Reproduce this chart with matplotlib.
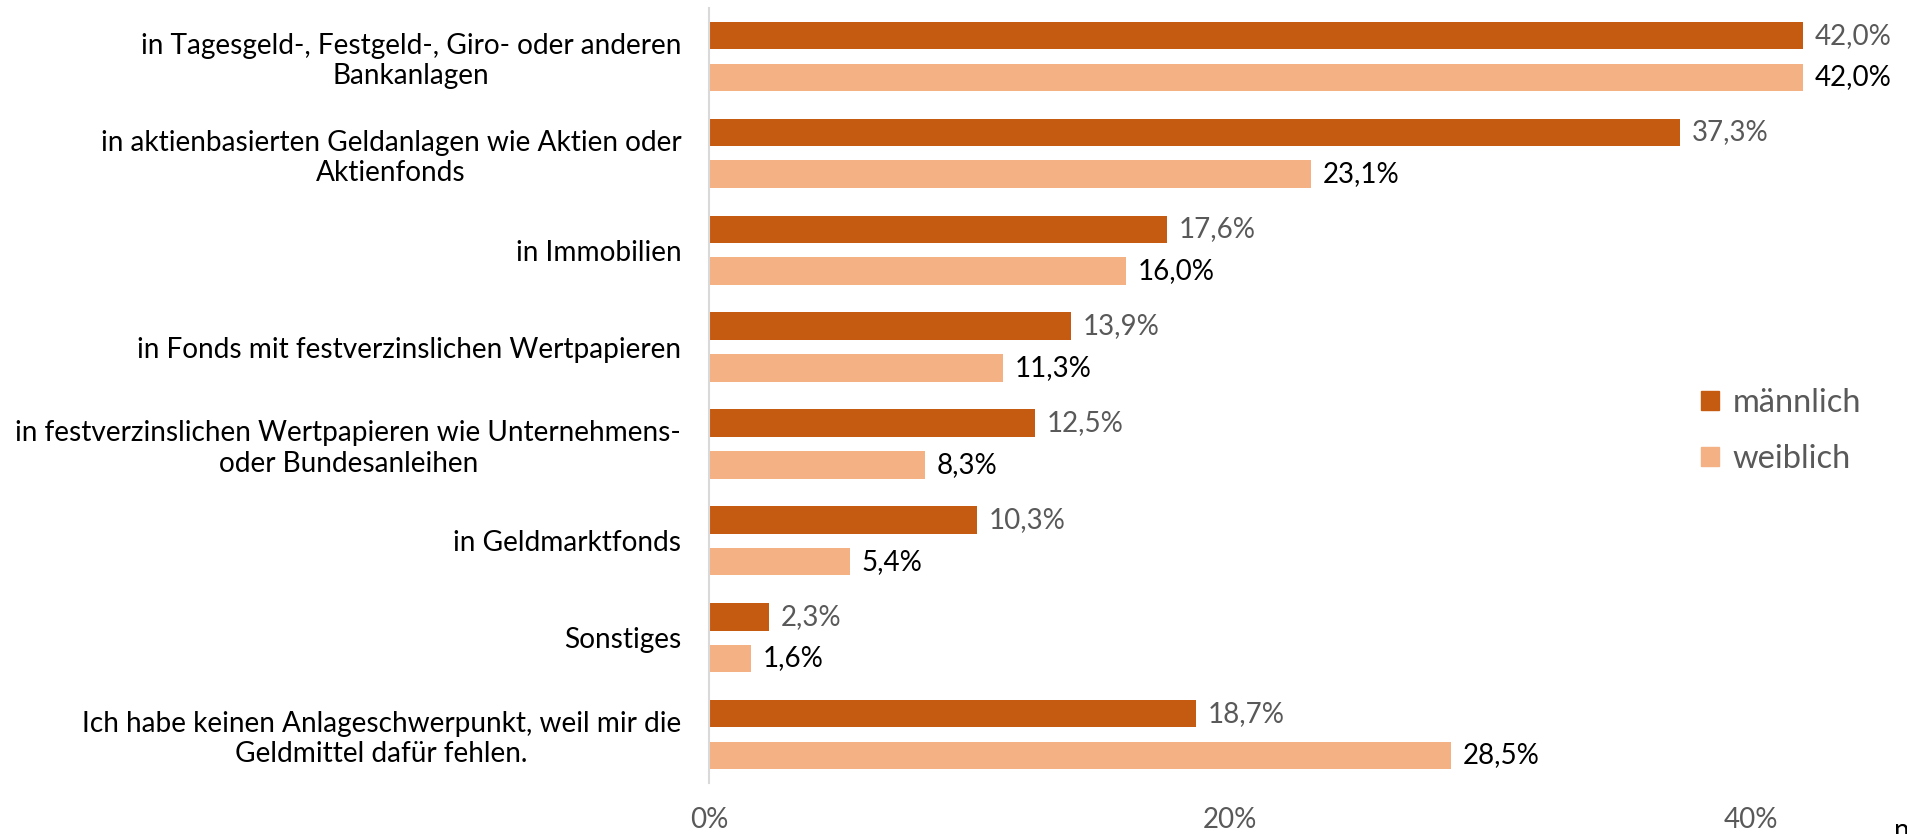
import matplotlib
matplotlib.use('Agg')
import matplotlib.pyplot as plt
import numpy as np
from matplotlib.patches import Patch

plt.rcParams['font.family'] = ['Lato', 'DejaVu Sans']

categories = [
    'in Tagesgeld-, Festgeld-, Giro- oder anderen\nBankanlagen',
    'in aktienbasierten Geldanlagen wie Aktien oder\nAktienfonds',
    'in Immobilien',
    'in Fonds mit festverzinslichen Wertpapieren',
    'in festverzinslichen Wertpapieren wie Unternehmens-\noder Bundesanleihen',
    'in Geldmarktfonds',
    'Sonstiges',
    'Ich habe keinen Anlageschwerpunkt, weil mir die\nGeldmittel dafür fehlen.',
]
maennlich = [42.0, 37.3, 17.6, 13.9, 12.5, 10.3, 2.3, 18.7]
weiblich = [42.0, 23.1, 16.0, 11.3, 8.3, 5.4, 1.6, 28.5]
xticks = [0, 20, 40]

c_m = '#C55A11'
c_w = '#F4B183'


def fmt(v):
    return f'{v:.1f}'.replace('.', ',') + '%'


W, H = 1907, 834
fig = plt.figure(figsize=(W / 100, H / 100), dpi=100)
ax = fig.add_axes([709 / W, 51 / H, 1 - 709 / W, 775 / H])

y = np.arange(len(categories))
bh = 0.284
ax.barh(y - 0.215, maennlich, height=bh, color=c_m)
ax.barh(y + 0.215, weiblich, height=bh, color=c_w)

for i in range(len(categories)):
    ax.text(maennlich[i] + 0.45, y[i] - 0.215, fmt(maennlich[i]),
            va='center', ha='left', fontsize=20, color='#595959')
    ax.text(weiblich[i] + 0.45, y[i] + 0.215, fmt(weiblich[i]),
            va='center', ha='left', fontsize=20, color='black')

ax.set_xlim(0, 46)
ax.set_ylim(len(categories) - 0.5, -0.5)
ax.set_xticks(xticks)
ax.set_xticklabels([f'{t}%' for t in xticks], fontsize=20, color='#595959')
ax.set_yticks(y)
ax.set_yticklabels(categories, fontsize=20.2, color='black')
for lbl in ax.get_yticklabels():
    lbl.set_multialignment('center')
ax.tick_params(axis='x', length=0, pad=17)
ax.tick_params(axis='y', length=0, pad=20)

for s in ['top', 'right', 'bottom']:
    ax.spines[s].set_visible(False)
ax.spines['left'].set_color('#D9D9D9')
ax.spines['left'].set_linewidth(1.5)

handles = [Patch(color=c_m, label='männlich'), Patch(color=c_w, label='weiblich')]
leg = fig.legend(handles=handles, loc='center left',
                 bbox_to_anchor=(1672 / W, 1 - 431 / H), frameon=False,
                 fontsize=23.5, handlelength=0.55, handleheight=0.55,
                 handletextpad=0.4, labelspacing=0.8)
for t in leg.get_texts():
    t.set_color('#595959')

fig.text(1894 / W, 1 - 818 / H, 'n', va='top', ha='left', fontsize=20)

fig.savefig('out.png', dpi=100)
